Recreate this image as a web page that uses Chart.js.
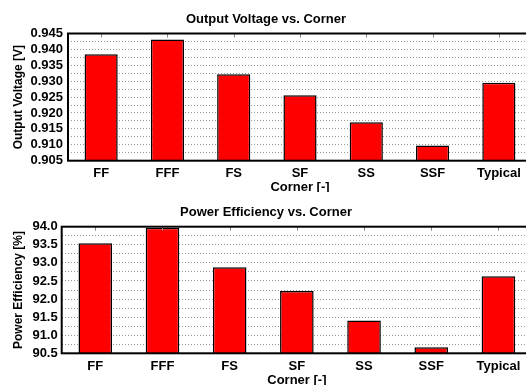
<!DOCTYPE html>
<html>
<head>
<meta charset="utf-8">
<script src="https://cdn.jsdelivr.net/npm/chart.js@4"></script>
<style>
  body { margin: 0; width: 526px; height: 385px; overflow: hidden; background: #fff; }
  .box { position: absolute; left: 0; width: 540px; }
</style>
</head>
<body>
<div class="box" style="top:0;height:192px"><canvas id="vout"></canvas></div>
<div class="box" style="top:192px;height:193px"><canvas id="eff"></canvas></div>
<script>
const corners = ['FF', 'FFF', 'FS', 'SF', 'SS', 'SSF', 'Typical'];
const outputVoltage = [0.9385, 0.9431, 0.9322, 0.9256, 0.9171, 0.9098, 0.9295];
const powerEfficiency = [93.54, 93.97, 92.88, 92.22, 91.41, 90.67, 92.63];

const FONT = "'Liberation Sans', Arial, sans-serif";

// frame around the plot + small ticks on the top border
const framePlugin = {
  id: 'frame',
  afterDraw(chart) {
    const { ctx, chartArea: a } = chart;
    const x = chart.scales.x;
    ctx.save();
    ctx.strokeStyle = '#888';
    ctx.lineWidth = 1;
    for (let i = 0; i < corners.length; i++) {
      const px = Math.round(x.getPixelForTick(i)) + 0.5;
      ctx.beginPath();
      ctx.moveTo(px, a.top);
      ctx.lineTo(px, a.top + 4);
      ctx.stroke();
    }
    ctx.strokeStyle = '#000';
    ctx.lineWidth = 2;
    ctx.strokeRect(a.left, a.top, a.right - a.left, a.bottom - a.top);
    ctx.restore();
  }
};

function makeChart(id, o) {
  new Chart(document.getElementById(id), {
    type: 'bar',
    data: {
      labels: corners,
      datasets: [{
        data: o.values,
        backgroundColor: '#ff0000',
        borderColor: '#000',
        borderWidth: 1.5,
        borderSkipped: false,
        barPercentage: 0.5,
        categoryPercentage: 1
      }]
    },
    options: {
      responsive: true,
      maintainAspectRatio: false,
      animation: false,
      layout: { padding: { left: 0, right: 8, top: 0, bottom: 0 } },
      plugins: {
        legend: { display: false },
        tooltip: { enabled: false },
        title: {
          display: true,
          text: o.title,
          color: '#000',
          font: { family: FONT, size: 13, weight: 'bold', lineHeight: 1.2 },
          padding: o.titlePad
        }
      },
      scales: {
        x: {
          grid: { display: false, drawTicks: false },
          border: { display: false },
          ticks: { color: '#000', padding: 5, font: { family: FONT, size: 13, weight: 'bold' } },
          title: {
            display: true,
            text: 'Corner [-]',
            color: '#000',
            font: { family: FONT, size: 13, weight: 'bold', lineHeight: o.xTitleLH },
            padding: 0
          },
          afterFit(s) { s.height = o.xHeight; }
        },
        y: {
          min: o.min,
          max: o.max,
          grid: { color: '#999', lineWidth: 1, drawTicks: false },
          border: { display: false, dash: [1, 2] },
          ticks: {
            stepSize: o.step,
            maxTicksLimit: 100,
            autoSkip: false,
            color: '#000',
            padding: o.yPad,
            font: { family: FONT, size: 13, weight: 'bold' },
            callback: (v, i) => (i % 2 === 0 ? Number(v).toFixed(o.digits) : '')
          },
          title: {
            display: true,
            text: o.yTitle,
            color: '#000',
            font: { family: FONT, size: 12, weight: 'bold', lineHeight: 1.2 },
            padding: { top: 11, bottom: 0 }
          },
          afterFit(s) { s.width = o.left; }
        }
      }
    },
    plugins: [framePlugin]
  });
}

Chart.defaults.scale.grid.borderDash = [1, 2];

makeChart('vout', {
  values: outputVoltage,
  title: 'Output Voltage vs. Corner',
  yTitle: 'Output Voltage [V]',
  min: 0.905, max: 0.945, step: 0.0025, digits: 3,
  titlePad: { top: 11.2, bottom: 6.7 },
  left: 68, xHeight: 31.3, xTitleLH: 0.66, yPad: 5
});

makeChart('eff', {
  values: powerEfficiency,
  title: 'Power Efficiency vs. Corner',
  yTitle: 'Power Efficiency [%]',
  min: 90.5, max: 94.0, step: 0.25, digits: 1,
  titlePad: { top: 12.2, bottom: 6.9 },
  left: 61.7, xHeight: 31.7, xTitleLH: 0.77, yPad: 4
});
</script>
</body>
</html>
